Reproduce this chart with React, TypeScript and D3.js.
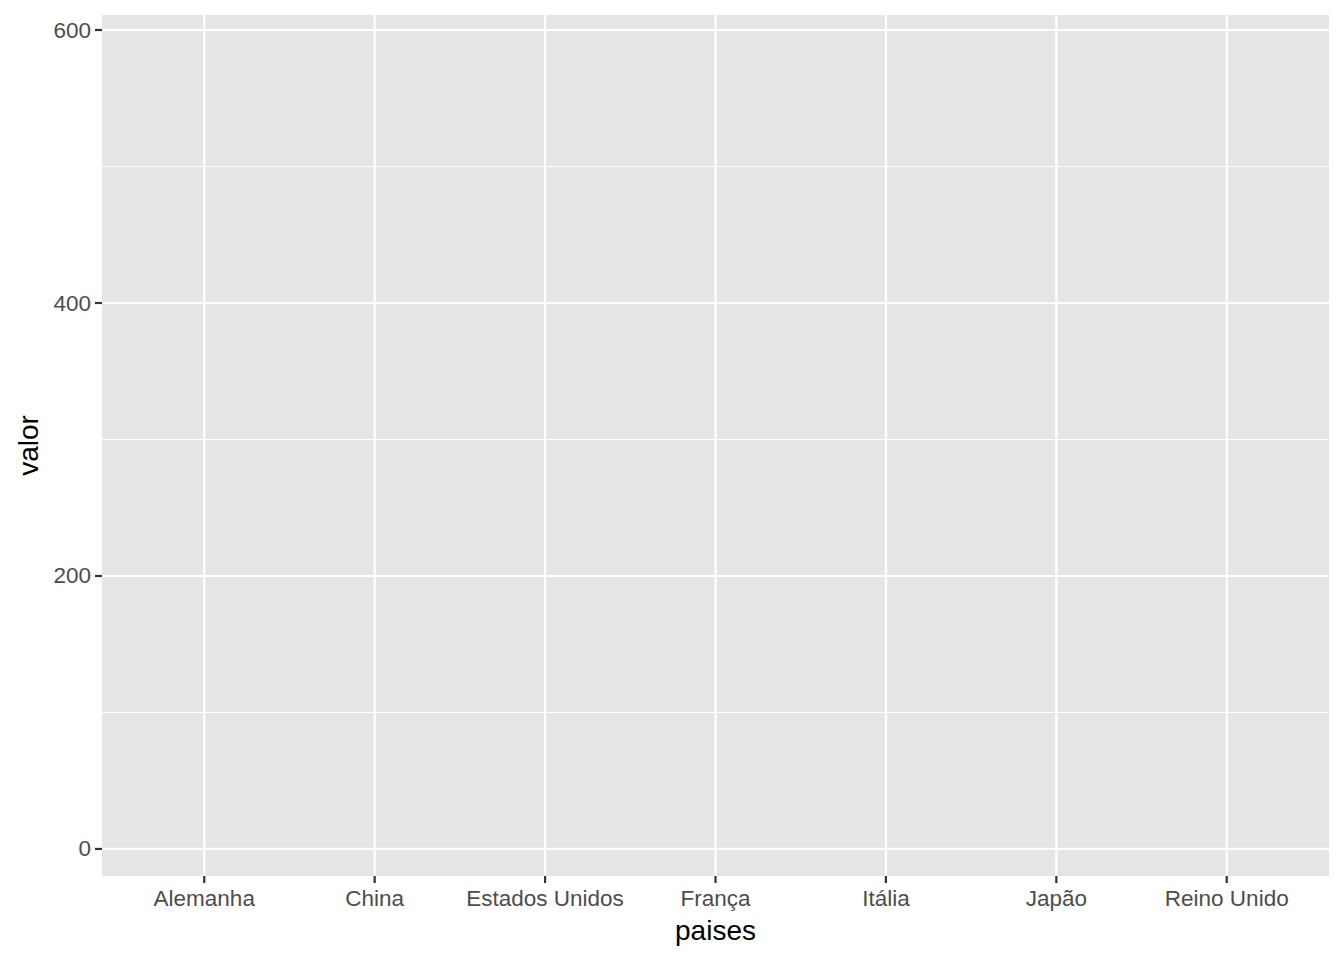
import { useMemo } from "react";
import * as d3 from "d3";

const paises = ["Alemanha", "China", "Estados Unidos", "França", "Itália", "Japão", "Reino Unido"];
const yTicks = [0, 200, 400, 600];
const yMinor = [100, 300, 500];

const WIDTH = 1344;
const HEIGHT = 960;
const PANEL = { left: 102, right: 1329, top: 15, bottom: 876 };
const FONT = "Liberation Sans, Arial, sans-serif";

export default function App() {
  const x = useMemo(
    () =>
      d3.scaleLinear().domain([0.4, paises.length + 0.6]).range([PANEL.left, PANEL.right]),
    []
  );
  const y = useMemo(
    () => d3.scaleLinear().domain([-19.8, 611]).range([PANEL.bottom, PANEL.top]),
    []
  );

  return (
    <svg
      width={WIDTH}
      height={HEIGHT}
      style={{ position: "absolute", left: 0, top: 0, background: "#fff" }}
      fontFamily={FONT}
    >
      <rect
        x={PANEL.left}
        y={PANEL.top}
        width={PANEL.right - PANEL.left}
        height={PANEL.bottom - PANEL.top}
        fill="#e5e5e5"
      />
      {yMinor.map((v) => (
        <line key={"m" + v} x1={PANEL.left} x2={PANEL.right} y1={y(v)} y2={y(v)} stroke="#fff" strokeWidth={1} />
      ))}
      {yTicks.map((v) => (
        <line key={"M" + v} x1={PANEL.left} x2={PANEL.right} y1={y(v)} y2={y(v)} stroke="#fff" strokeWidth={2.2} />
      ))}
      {paises.map((p, i) => (
        <line key={p} x1={x(i + 1)} x2={x(i + 1)} y1={PANEL.top} y2={PANEL.bottom} stroke="#fff" strokeWidth={2.2} />
      ))}

      {/* y axis */}
      {yTicks.map((v) => (
        <g key={"t" + v}>
          <line x1={PANEL.left - 7} x2={PANEL.left} y1={y(v)} y2={y(v)} stroke="#333" strokeWidth={2.2} />
          <text x={PANEL.left - 11} y={y(v)} textAnchor="end" dominantBaseline="central" fontSize={22.5} fill="#4d4d4d">
            {v}
          </text>
        </g>
      ))}
      {/* x axis */}
      {paises.map((p, i) => (
        <g key={"x" + p}>
          <line x1={x(i + 1)} x2={x(i + 1)} y1={PANEL.bottom} y2={PANEL.bottom + 7} stroke="#333" strokeWidth={2.2} />
          <text x={x(i + 1)} y={PANEL.bottom + 30} textAnchor="middle" fontSize={22.5} fill="#4d4d4d">
            {p}
          </text>
        </g>
      ))}

      <text x={(PANEL.left + PANEL.right) / 2} y={940} textAnchor="middle" fontSize={28} fill="#000">
        paises
      </text>
      <text
        transform={`translate(38, ${(PANEL.top + PANEL.bottom) / 2}) rotate(-90)`}
        textAnchor="middle"
        fontSize={28}
        fill="#000"
      >
        valor
      </text>
    </svg>
  );
}
